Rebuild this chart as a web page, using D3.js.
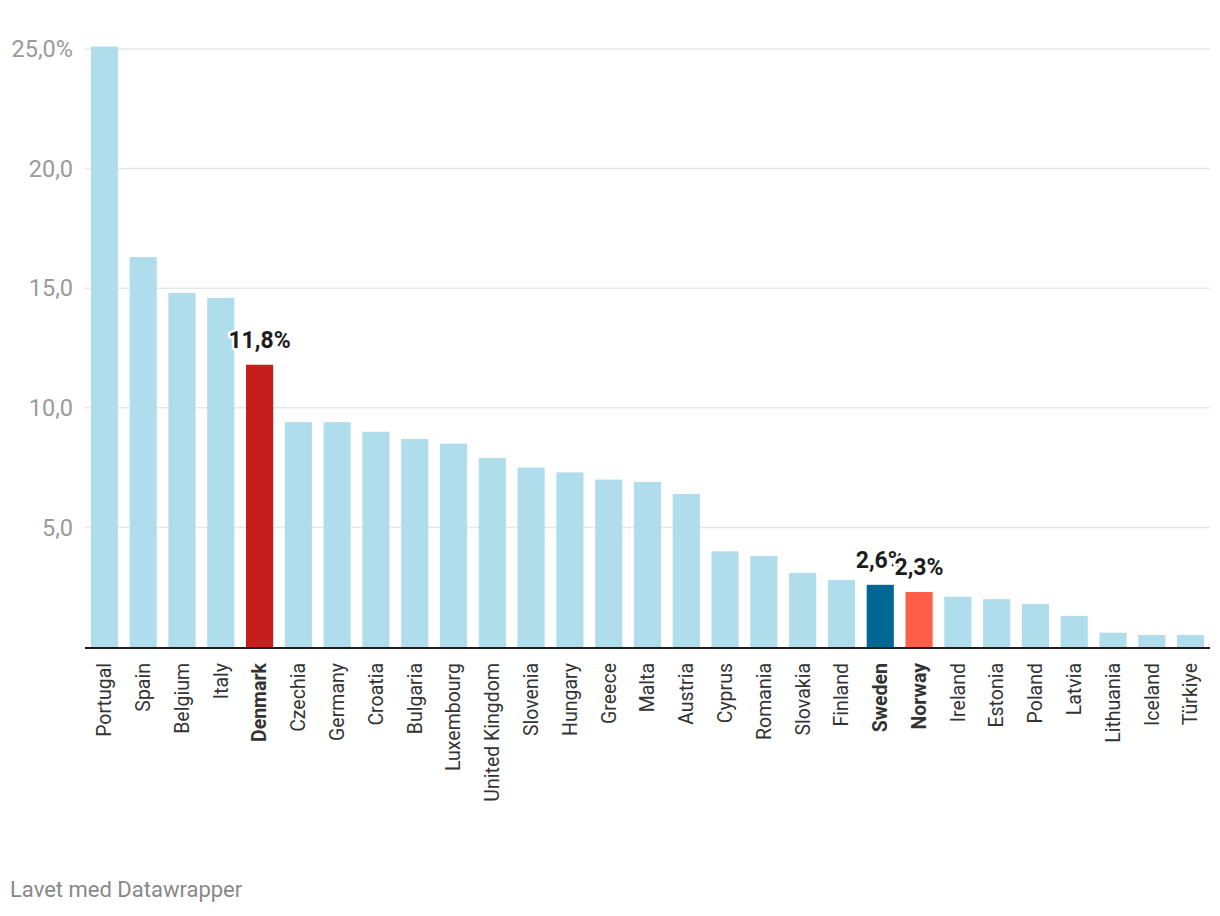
<!DOCTYPE html>
<html>
<head>
<meta charset="utf-8">
<script src="https://cdn.jsdelivr.net/npm/d3@7"></script>
<style>
  body { margin: 0; background: #fff; font-family: Roboto, "Noto Sans", sans-serif; }
</style>
</head>
<body>
<div id="chart"></div>
<script>
const WIDTH = 1220;
const HEIGHT = 916;

const countries = ['Portugal', 'Spain', 'Belgium', 'Italy', 'Denmark', 'Czechia', 'Germany', 'Croatia',
    'Bulgaria', 'Luxembourg', 'United Kingdom', 'Slovenia', 'Hungary', 'Greece', 'Malta', 'Austria',
    'Cyprus', 'Romania', 'Slovakia', 'Finland', 'Sweden', 'Norway', 'Ireland', 'Estonia', 'Poland',
    'Latvia', 'Lithuania', 'Iceland', 'Türkiye'];
const values = [25.1, 16.3, 14.8, 14.6, 11.8, 9.4, 9.4, 9.0, 8.7, 8.5, 7.9, 7.5, 7.3, 7.0, 6.9, 6.4,
    4.0, 3.8, 3.1, 2.8, 2.6, 2.3, 2.1, 2.0, 1.8, 1.3, 0.6, 0.5, 0.5];
const yTicks = [0, 5, 10, 15, 20, 25];

// highlighted bars
const highlight = { 'Denmark': '#c71e1d', 'Sweden': '#006891', 'Norway': '#ff5f4a' };
const labelled = ['Denmark', 'Sweden', 'Norway'];

const data = countries.map((c, i) => ({ name: c, value: values[i] }));

const svg = d3.select('#chart')
    .append('svg')
    .attr('width', WIDTH)
    .attr('height', HEIGHT);

const x = d3.scaleBand()
    .domain(countries)
    .range([85, 1210])
    .paddingInner(0.3)
    .paddingOuter(0.15);

const y = d3.scaleLinear()
    .domain([0, 25])
    .range([647, 49]);

// gridlines
svg.append('g')
    .selectAll('line')
    .data(yTicks.filter(d => d > 0))
    .enter()
    .append('line')
    .attr('x1', 85)
    .attr('x2', 1210)
    .attr('y1', d => y(d))
    .attr('y2', d => y(d))
    .attr('stroke', '#e6e6e6')
    .attr('stroke-width', 1.5);

// y labels
svg.append('g')
    .selectAll('text')
    .data(yTicks.filter(d => d > 0))
    .enter()
    .append('text')
    .text(d => d3.format('.1f')(d).replace('.', ',') + (d === 25 ? '%' : ''))
    .attr('x', 73)
    .attr('y', d => y(d))
    .attr('dy', '0.35em')
    .attr('text-anchor', 'end')
    .attr('font-size', 23.5)
    .attr('fill', '#9a9a9a');

// bars
svg.append('g')
    .selectAll('rect')
    .data(data)
    .enter()
    .append('rect')
    .attr('x', d => x(d.name))
    .attr('y', d => y(d.value))
    .attr('width', x.bandwidth())
    .attr('height', d => y(0) - y(d.value))
    .attr('fill', d => highlight[d.name] || '#b0ddec');

// baseline
svg.append('line')
    .attr('x1', 85)
    .attr('x2', 1210)
    .attr('y1', y(0) + 1)
    .attr('y2', y(0) + 1)
    .attr('stroke', '#1d1d1d')
    .attr('stroke-width', 2);

// x labels
svg.append('g')
    .selectAll('text')
    .data(countries)
    .enter()
    .append('text')
    .text(d => d)
    .attr('transform', d => `translate(${x(d) + x.bandwidth() / 2},663) rotate(-90)`)
    .attr('dy', '0.35em')
    .attr('text-anchor', 'end')
    .attr('font-size', 19.5)
    .attr('font-weight', d => labelled.includes(d) ? 'bold' : 'normal')
    .attr('fill', '#333');

// value labels (Norway drawn last, its halo covers part of Sweden's label as in the original)
svg.append('g')
    .selectAll('text')
    .data(data.filter(d => labelled.includes(d.name)))
    .enter()
    .append('text')
    .text(d => d3.format('.1f')(d.value).replace('.', ',') + '%')
    .attr('x', d => x(d.name) + x.bandwidth() / 2)
    .attr('y', d => y(d.value) - 17)
    .attr('text-anchor', 'middle')
    .attr('font-size', 23)
    .attr('font-weight', 'bold')
    .attr('fill', '#1d1d1d')
    .attr('stroke', '#fff')
    .attr('stroke-width', 5)
    .attr('stroke-linejoin', 'round')
    .attr('paint-order', 'stroke');

// footer
svg.append('text')
    .text('Lavet med Datawrapper')
    .attr('x', 10)
    .attr('y', 897)
    .attr('font-size', 22)
    .attr('fill', '#888');
</script>
</body>
</html>
